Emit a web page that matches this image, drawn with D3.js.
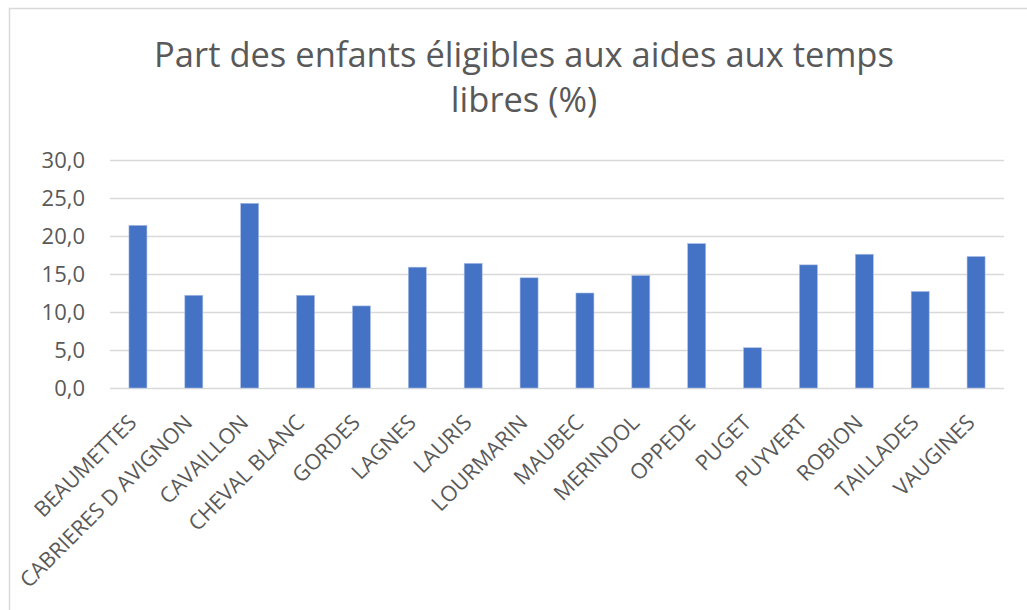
<!DOCTYPE html>
<html>
<head>
<meta charset="utf-8">
<script src="https://cdn.jsdelivr.net/npm/d3@7"></script>
<style>
  body { margin: 0; background: #fff; }
  svg { display: block; }
</style>
</head>
<body>
<svg id="chart" width="1027" height="610"></svg>
<script>
// communes et part des enfants éligibles (%)
const communes = ['BEAUMETTES', 'CABRIERES D AVIGNON', 'CAVAILLON', 'CHEVAL BLANC', 'GORDES', 'LAGNES', 'LAURIS',
  'LOURMARIN', 'MAUBEC', 'MERINDOL', 'OPPEDE', 'PUGET', 'PUYVERT', 'ROBION', 'TAILLADES', 'VAUGINES'];
const parts = [21.4, 12.2, 24.3, 12.2, 10.8, 15.9, 16.4, 14.5, 12.5, 14.8, 19.0, 5.3, 16.2, 17.6, 12.7, 17.3];
const graduations = [0, 5, 10, 15, 20, 25, 30];
const titreLignes = ['Part des enfants éligibles aux aides aux temps', 'libres (%)'];

var marge = {haut: 160, droite: 23, bas: 222, gauche: 110};
var largeur = 1027, hauteur = 610;
const gris = '#595959';
const police = '"Open Sans", "Noto Sans", sans-serif';

const svg = d3.select('#chart');

// cadre du graphique
svg.append('rect')
  .attr('x', 9.5).attr('y', 8.5)
  .attr('width', 1100).attr('height', 700)
  .attr('fill', '#fff')
  .attr('stroke', '#d9d9d9')
  .attr('stroke-width', 1.5);

// titre
svg.append('g').selectAll('text').data(titreLignes).enter().append('text')
  .attr('x', 524)
  .attr('y', (d, i) => 67 + i * 45)
  .attr('text-anchor', 'middle')
  .attr('font-family', police)
  .attr('font-size', 34.5)
  .attr('fill', gris)
  .text(d => d);

var xScale = d3.scaleBand().domain(communes)
  .range([marge.gauche, largeur - marge.droite])
  .paddingInner(0.678).paddingOuter(0.339);
var yScale = d3.scaleLinear().domain([0, 30])
  .range([hauteur - marge.bas, marge.haut]);

const fmt = v => d3.format('.1f')(v).replace('.', ',');

// grille horizontale + étiquettes Y
var axeY = svg.append('g')
  .attr('transform', `translate(${marge.gauche},0)`)
  .call(d3.axisLeft(yScale).tickValues(graduations).tickFormat(fmt)
    .tickSize(-(largeur - marge.droite - marge.gauche)).tickPadding(25));
axeY.select('.domain').remove();
axeY.selectAll('.tick line').attr('stroke', '#d9d9d9').attr('stroke-width', 1.5);
axeY.selectAll('.tick text')
  .attr('font-family', police).attr('font-size', 22).attr('fill', gris);

// barres
svg.append('g').selectAll('rect').data(parts).enter().append('rect')
  .attr('x', (d, i) => xScale(communes[i]))
  .attr('y', d => yScale(d))
  .attr('width', xScale.bandwidth())
  .attr('height', d => yScale(0) - yScale(d))
  .attr('fill', '#4472c4')
  .attr('stroke', '#a9bde6')
  .attr('stroke-width', 0.6);

// étiquettes X inclinées
var axeX = svg.append('g')
  .attr('transform', `translate(0,${yScale(0)})`)
  .call(d3.axisBottom(xScale).tickSize(0).tickPadding(0));
axeX.select('.domain').remove();
axeX.selectAll('.tick text')
  .attr('font-family', police).attr('font-size', 21.5).attr('fill', gris)
  .attr('text-anchor', 'end')
  .attr('dy', 0)
  .attr('y', 0)
  .attr('transform', 'translate(0,36) rotate(-45)');
</script>
</body>
</html>
